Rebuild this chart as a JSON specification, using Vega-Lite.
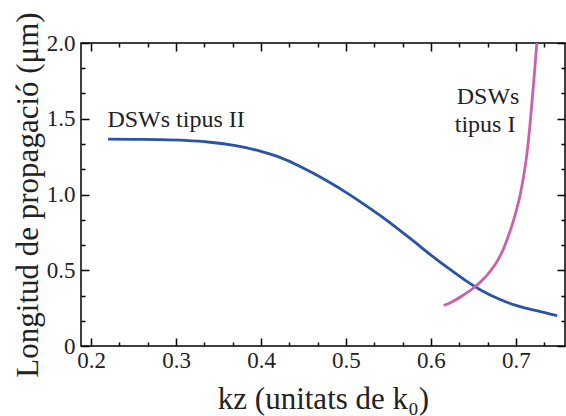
{
  "$schema": "https://vega.github.io/schema/vega-lite/v6.json",
  "width": 484,
  "height": 303,
  "autosize": "none",
  "padding": {"left": 81, "top": 43, "right": 1, "bottom": 70},
  "config": {
    "view": {"stroke": "#000", "strokeWidth": 1.5},
    "axis": {
      "grid": false,
      "domain": false,
      "tickColor": "#000",
      "tickWidth": 1.5,
      "labelFont": "Liberation Serif",
      "labelFontSize": 23,
      "labelColor": "#222",
      "titleFont": "Liberation Serif",
      "titleFontSize": 31,
      "titleFontWeight": "normal",
      "titleColor": "#222"
    }
  },
  "datasets": {
    "curves": [
      {"kz": 0.22, "len": 1.365, "tipus": "II"},
      {"kz": 0.25, "len": 1.364, "tipus": "II"},
      {"kz": 0.28, "len": 1.362, "tipus": "II"},
      {"kz": 0.31, "len": 1.357, "tipus": "II"},
      {"kz": 0.34, "len": 1.345, "tipus": "II"},
      {"kz": 0.37, "len": 1.322, "tipus": "II"},
      {"kz": 0.4, "len": 1.285, "tipus": "II"},
      {"kz": 0.42, "len": 1.25, "tipus": "II"},
      {"kz": 0.44, "len": 1.202, "tipus": "II"},
      {"kz": 0.46, "len": 1.145, "tipus": "II"},
      {"kz": 0.48, "len": 1.082, "tipus": "II"},
      {"kz": 0.5, "len": 1.014, "tipus": "II"},
      {"kz": 0.52, "len": 0.94, "tipus": "II"},
      {"kz": 0.54, "len": 0.862, "tipus": "II"},
      {"kz": 0.56, "len": 0.778, "tipus": "II"},
      {"kz": 0.58, "len": 0.69, "tipus": "II"},
      {"kz": 0.6, "len": 0.6, "tipus": "II"},
      {"kz": 0.62, "len": 0.515, "tipus": "II"},
      {"kz": 0.64, "len": 0.435, "tipus": "II"},
      {"kz": 0.66, "len": 0.365, "tipus": "II"},
      {"kz": 0.68, "len": 0.31, "tipus": "II"},
      {"kz": 0.7, "len": 0.268, "tipus": "II"},
      {"kz": 0.72, "len": 0.238, "tipus": "II"},
      {"kz": 0.735, "len": 0.218, "tipus": "II"},
      {"kz": 0.7485, "len": 0.2, "tipus": "II"},
      {"kz": 0.615, "len": 0.267, "tipus": "I"},
      {"kz": 0.625, "len": 0.292, "tipus": "I"},
      {"kz": 0.635, "len": 0.325, "tipus": "I"},
      {"kz": 0.645, "len": 0.362, "tipus": "I"},
      {"kz": 0.65, "len": 0.383, "tipus": "I"},
      {"kz": 0.66, "len": 0.432, "tipus": "I"},
      {"kz": 0.67, "len": 0.495, "tipus": "I"},
      {"kz": 0.678, "len": 0.56, "tipus": "I"},
      {"kz": 0.685, "len": 0.638, "tipus": "I"},
      {"kz": 0.69, "len": 0.71, "tipus": "I"},
      {"kz": 0.695, "len": 0.79, "tipus": "I"},
      {"kz": 0.7, "len": 0.885, "tipus": "I"},
      {"kz": 0.705, "len": 1.0, "tipus": "I"},
      {"kz": 0.709, "len": 1.12, "tipus": "I"},
      {"kz": 0.713, "len": 1.275, "tipus": "I"},
      {"kz": 0.716, "len": 1.43, "tipus": "I"},
      {"kz": 0.719, "len": 1.62, "tipus": "I"},
      {"kz": 0.722, "len": 1.82, "tipus": "I"},
      {"kz": 0.725, "len": 2.03, "tipus": "I"}
    ],
    "labels": [
      {"kz": 0.2193, "len": 1.444, "text": "DSWs tipus II"},
      {"kz": 0.6303, "len": 1.6, "text": "DSWs"},
      {"kz": 0.628, "len": 1.413, "text": "tipus I"}
    ]
  },
  "layer": [
    {
      "data": {"name": "curves"},
      "mark": {"type": "line", "strokeWidth": 2.8, "clip": true, "interpolate": "monotone"},
      "encoding": {
        "x": {
          "field": "kz", "type": "quantitative",
          "scale": {"domain": [0.1882, 0.7577], "nice": false, "zero": false},
          "axis": {
            "orient": "bottom", "values": [0.2, 0.3, 0.4, 0.5, 0.6, 0.7], "format": ".1f",
            "tickSize": -8, "labelPadding": 11,
            "title": "kz (unitats de k₀)", "titlePadding": 12
          }
        },
        "y": {
          "field": "len", "type": "quantitative",
          "scale": {"domain": [0, 2], "nice": false, "zero": false},
          "axis": {
            "orient": "left", "values": [0, 0.5, 1, 1.5, 2],
            "labelExpr": "datum.value == 0 ? '0' : format(datum.value, '.1f')",
            "tickSize": -8, "labelPadding": 14,
            "title": "Longitud de propagació (μm)", "titlePadding": 2
          }
        },
        "color": {
          "field": "tipus", "type": "nominal",
          "scale": {"domain": ["II", "I"], "range": ["#2a52a8", "#cc5fae"]},
          "legend": null
        }
      }
    },
    {
      "data": {"name": "curves"},
      "mark": {"type": "point", "opacity": 0},
      "encoding": {
        "x": {
          "field": "kz", "type": "quantitative",
          "axis": {"orient": "top", "values": [0.2, 0.3, 0.4, 0.5, 0.6, 0.7], "tickSize": -8, "labels": false, "title": null}
        },
        "y": {
          "field": "len", "type": "quantitative",
          "axis": {"orient": "right", "values": [0, 0.5, 1, 1.5, 2], "tickSize": -8, "labels": false, "title": null}
        }
      }
    },
    {
      "data": {"name": "curves"},
      "mark": {"type": "point", "opacity": 0},
      "encoding": {
        "x": {
          "field": "kz", "type": "quantitative",
          "axis": {"orient": "bottom", "values": [0.2333, 0.2667, 0.3333, 0.3667, 0.4333, 0.4667, 0.5333, 0.5667, 0.6333, 0.6667, 0.7333], "tickSize": -4, "labels": false, "title": null}
        },
        "y": {
          "field": "len", "type": "quantitative",
          "axis": {"orient": "left", "values": [0.1667, 0.3333, 0.6667, 0.8333, 1.1667, 1.3333, 1.6667, 1.8333], "tickSize": -4, "labels": false, "title": null}
        }
      }
    },
    {
      "data": {"name": "curves"},
      "mark": {"type": "point", "opacity": 0},
      "encoding": {
        "x": {
          "field": "kz", "type": "quantitative",
          "axis": {"orient": "top", "values": [0.2333, 0.2667, 0.3333, 0.3667, 0.4333, 0.4667, 0.5333, 0.5667, 0.6333, 0.6667, 0.7333], "tickSize": -4, "labels": false, "title": null}
        },
        "y": {
          "field": "len", "type": "quantitative",
          "axis": {"orient": "right", "values": [0.1667, 0.3333, 0.6667, 0.8333, 1.1667, 1.3333, 1.6667, 1.8333], "tickSize": -4, "labels": false, "title": null}
        }
      }
    },
    {
      "data": {"name": "labels"},
      "mark": {"type": "text", "align": "left", "baseline": "alphabetic", "font": "Liberation Serif", "fontSize": 24, "color": "#222"},
      "encoding": {
        "x": {"field": "kz", "type": "quantitative", "axis": null},
        "y": {"field": "len", "type": "quantitative", "axis": null},
        "text": {"field": "text", "type": "nominal"}
      }
    }
  ],
  "resolve": {"axis": {"x": "independent", "y": "independent"}}
}
